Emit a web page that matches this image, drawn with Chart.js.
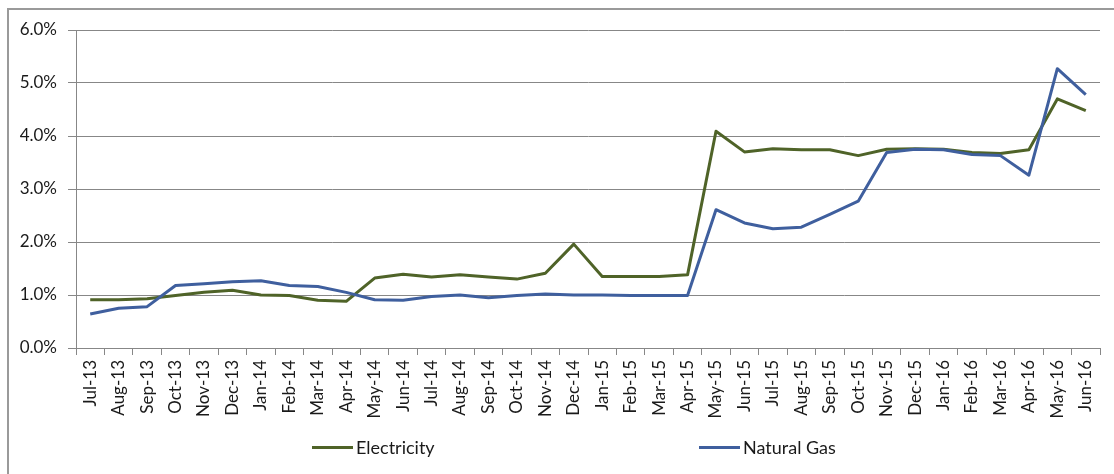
<!DOCTYPE html>
<html>
<head>
<meta charset="utf-8">
<script src="https://cdn.jsdelivr.net/npm/chart.js@4.4.1/dist/chart.umd.min.js"></script>
<style>
  html, body { margin: 0; padding: 0; background: #ffffff; }
  #wrap { position: relative; width: 1114px; height: 474px; overflow: hidden; background: #fff; }
  #frame { position: absolute; left: 7px; top: 8px; width: 1200px; height: 600px;
           border-left: 2px solid #9a9a9a; border-top: 2px solid #9a9a9a; box-sizing: border-box; }
  canvas { position: absolute; left: 0; top: 0; }
  .lg { position: absolute; top: 436px; height: 22px; font-family: Lato, 'Liberation Sans', Arial, sans-serif;
        font-size: 18px; color: #1a1a1a; line-height: 22px; white-space: nowrap; }
  .lg span.sw { position: absolute; top: 10px; width: 41px; height: 3px; }
  .lg span.tx { position: absolute; }
</style>
</head>
<body>
<div id="wrap">
  <div id="frame"></div>
  <canvas id="c" width="1114" height="474"></canvas>
  <div class="lg" style="left:312px;"><span class="sw" id="sw0"></span><span class="tx" id="tx0" style="left:44px;"></span></div>
  <div class="lg" style="left:699px;"><span class="sw" id="sw1"></span><span class="tx" id="tx1" style="left:44px;"></span></div>
</div>
<script>
const months = ['Jul-13','Aug-13','Sep-13','Oct-13','Nov-13','Dec-13','Jan-14','Feb-14','Mar-14','Apr-14','May-14','Jun-14',
  'Jul-14','Aug-14','Sep-14','Oct-14','Nov-14','Dec-14','Jan-15','Feb-15','Mar-15','Apr-15','May-15','Jun-15',
  'Jul-15','Aug-15','Sep-15','Oct-15','Nov-15','Dec-15','Jan-16','Feb-16','Mar-16','Apr-16','May-16','Jun-16'];
const electricity = [0.91,0.91,0.93,0.99,1.05,1.09,1.00,0.99,0.90,0.88,1.32,1.39,
  1.34,1.38,1.34,1.30,1.41,1.96,1.35,1.35,1.35,1.38,4.09,3.70,
  3.76,3.74,3.74,3.63,3.75,3.76,3.75,3.69,3.67,3.74,4.70,4.48];
const naturalGas = [0.64,0.75,0.78,1.18,1.21,1.25,1.27,1.18,1.16,1.05,0.91,0.90,
  0.97,1.00,0.95,0.99,1.02,1.00,1.00,0.99,0.99,0.99,2.61,2.36,
  2.25,2.28,2.52,2.77,3.69,3.75,3.74,3.65,3.63,3.26,5.27,4.78];
const yTickLabels = ['0.0%','1.0%','2.0%','3.0%','4.0%','5.0%','6.0%'];
const seriesNames = ['Electricity','Natural Gas'];
const seriesColors = ['#4f6328','#3f5f9e'];

const FONT = "Lato, 'Liberation Sans', Arial, sans-serif";
const GRID = '#878787';

document.getElementById('sw0').style.background = seriesColors[0];
document.getElementById('sw1').style.background = seriesColors[1];
document.getElementById('tx0').textContent = seriesNames[0];
document.getElementById('tx1').textContent = seriesNames[1];

new Chart(document.getElementById('c'), {
  type: 'line',
  data: {
    labels: months,
    datasets: [
      { label: seriesNames[0], data: electricity, borderColor: seriesColors[0], backgroundColor: seriesColors[0],
        borderWidth: 3, pointRadius: 0, tension: 0, fill: false, borderJoinStyle: 'round', order: 1 },
      { label: seriesNames[1], data: naturalGas, borderColor: seriesColors[1], backgroundColor: seriesColors[1],
        borderWidth: 3, pointRadius: 0, tension: 0, fill: false, borderJoinStyle: 'round', order: 0 }
    ]
  },
  options: {
    responsive: false,
    animation: false,
    devicePixelRatio: 1,
    layout: { padding: { top: 30, right: 14, left: 0, bottom: 0 } },
    plugins: { legend: { display: false }, tooltip: { enabled: false } },
    scales: {
      x: {
        type: 'category',
        offset: true,
        grid: { display: true, drawOnChartArea: false, drawTicks: true, tickLength: 7, offset: true, color: GRID },
        border: { display: true, color: GRID, width: 1 },
        ticks: { minRotation: 90, maxRotation: 90, autoSkip: false, padding: 5, color: '#1a1a1a',
                 font: { family: FONT, size: 17 } },
        afterFit: s => { s.height = 126; }
      },
      y: {
        min: 0, max: 6,
        ticks: { stepSize: 1, padding: 11, color: '#1a1a1a', font: { family: FONT, size: 17 },
                 callback: (v, i) => yTickLabels[i] },
        grid: { color: GRID, tickLength: 8, drawTicks: true },
        border: { display: true, color: GRID, width: 1 },
        afterFit: s => { s.width = 76; }
      }
    }
  }
});
</script>
</body>
</html>
